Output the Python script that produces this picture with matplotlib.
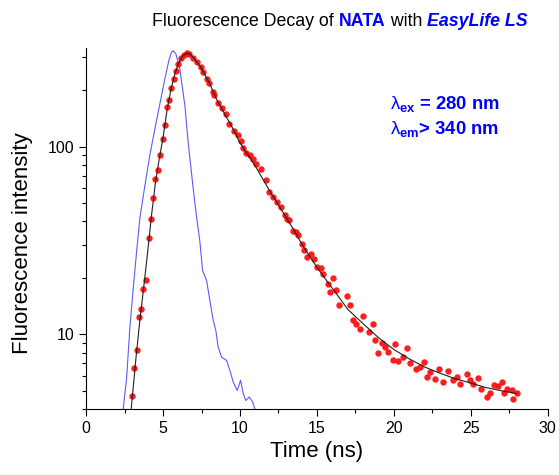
import matplotlib
matplotlib.use("Agg")
import matplotlib.pyplot as plt
from matplotlib.ticker import FixedLocator, NullFormatter, MultipleLocator
from matplotlib.offsetbox import TextArea, HPacker, AnchoredOffsetbox

plt.rcParams['font.family'] = ['Liberation Sans', 'DejaVu Sans']
plt.rcParams['mathtext.fontset'] = 'custom'
plt.rcParams['mathtext.rm'] = 'Liberation Sans'
plt.rcParams['mathtext.bf'] = 'Liberation Sans:bold'
plt.rcParams['mathtext.it'] = 'Liberation Sans:italic'

t_data = [2.99, 3.12, 3.28, 3.45, 3.60, 3.73, 3.90, 4.08, 4.19, 4.34, 4.49, 4.64,
          4.79, 4.97, 5.10, 5.23, 5.38, 5.51, 5.70, 5.83, 5.98, 6.16, 6.35, 6.53,
          6.70, 6.92, 7.18, 7.46, 7.61, 7.87, 7.98, 8.22, 8.32, 8.58, 8.80, 9.08,
          9.30, 9.60, 9.84, 10.06, 10.21, 10.38, 10.64, 10.82, 11.03, 11.34, 11.68,
          11.88, 12.12, 12.42, 12.64, 12.92, 13.07, 13.18, 13.42, 13.61, 13.78,
          14.00, 14.15, 14.37, 14.59, 14.82, 14.98, 15.26, 15.41, 15.73, 15.85,
          16.02, 16.24, 16.45, 16.93, 17.15, 17.36, 17.54, 17.80, 18.01, 18.40,
          18.62, 18.77, 18.99, 19.21, 19.42, 19.64, 19.92, 20.07, 20.29, 20.57,
          20.83, 21.05, 21.44, 21.70, 21.96, 22.13, 22.35, 22.67, 22.95, 23.21,
          23.54, 23.86, 24.08, 24.30, 24.73, 24.95, 25.16, 25.45, 25.66, 26.03,
          26.25, 26.53, 26.75, 27.01, 27.18, 27.33, 27.66, 27.76, 27.98]
y_data = [4.67, 6.61, 8.22, 12.4, 13.7, 17.5, 19.6, 32.7, 41.4, 53.4, 67.7, 75.5,
          90.0, 110, 131, 163, 178, 206, 231, 255, 277, 297, 310, 318,
          312, 297, 283, 266, 250, 231, 220, 197, 188, 172, 161, 150,
          133, 122, 116, 107, 98.4, 93.0, 90.0, 86.5, 81.3, 75.8, 66.3,
          57.4, 54.0, 50.7, 47.7, 43.5, 41.4, 40.8, 35.8, 35.1, 34.0,
          30.4, 28.2, 26.0, 26.7, 25.3, 22.9, 22.6, 21.1, 18.5, 16.8,
          20.0, 17.2, 14.3, 16.0, 14.4, 11.9, 11.4, 10.7, 12.6, 10.3,
          11.3, 9.29, 7.95, 8.99, 8.56, 8.05, 7.27, 8.92, 7.21, 7.57,
          8.49, 7.03, 6.56, 6.70, 7.12, 5.92, 6.29, 5.81, 6.56, 5.57,
          6.37, 5.69, 5.92, 5.46, 6.17, 5.69, 5.41, 5.87, 5.14, 4.64,
          4.87, 5.35, 5.29, 5.57, 4.87, 5.14, 5.02, 4.54, 4.87]

# fitted curve (black)
t_fit = [2.93, 3.0, 3.25, 3.5, 3.75, 4.0, 4.25, 4.5, 4.75, 5.0, 5.25, 5.5, 5.75,
         6.0, 6.25, 6.5, 6.75, 7.0, 7.5, 8.0, 8.5, 9.0, 9.5, 10.0, 10.5, 11.0,
         11.5, 12.0, 12.5, 13.0, 13.5, 14.0, 14.5, 15.0, 15.5, 16.0, 16.5, 17.0,
         18.0, 19.0, 20.0, 21.0, 22.0, 23.0, 24.0, 25.0, 26.0, 27.0, 28.0]
y_fit = [4.0, 4.6, 7.6, 12.0, 18.0, 27.5, 43, 64, 86, 112, 155, 200, 242,
         278, 303, 316, 313, 297, 262, 220, 178, 150, 127, 105, 91, 79,
         67, 57, 49, 42, 36, 30.5, 26.3, 22.8, 20.0, 17.6, 15.5, 13.6,
         11.4, 9.6, 8.3, 7.4, 6.7, 6.2, 5.8, 5.5, 5.2, 5.0, 4.83]

# instrument response (blue)
t_irf = [2.35, 2.41, 2.63, 2.84, 3.06, 3.28, 3.49, 3.82, 4.14, 4.47, 4.79, 5.12,
         5.38, 5.55, 5.66, 5.83, 6.09, 6.42, 6.63, 6.96, 7.18, 7.39, 7.57, 7.83,
         8.04, 8.26, 8.43, 8.58, 8.80, 9.13, 9.34, 9.56, 9.82, 10.04, 10.21,
         10.38, 10.60, 10.82, 10.97, 11.2]
y_irf = [3.6, 4.0, 5.8, 10.7, 17.5, 27.5, 41.4, 62.2, 90, 125, 169, 231,
         289, 320, 326, 314, 261, 166, 106, 59.9, 42.2, 31.5, 21.9, 19.4,
         15.2, 11.9, 10.5, 8.56, 7.57, 7.26, 6.43, 5.57, 5.02, 5.69, 4.83,
         4.44, 4.63, 4.36, 4.0, 3.8]

fig = plt.figure(figsize=(5.59, 4.75), dpi=100)
ax = fig.add_axes([0.154, 0.139, 0.826, 0.759])

ax.plot(t_irf, y_irf, color='#5a5aff', lw=0.8)
ax.plot(t_data, y_data, 'o', color='#ff1010', ms=4.6, mec='none', alpha=0.95)
ax.plot(t_fit, y_fit, color='#202020', lw=0.8)

ax.set_yscale('log')
ax.set_xlim(0, 30)
ax.set_ylim(4, 335)
ax.xaxis.set_major_locator(MultipleLocator(5))
ax.xaxis.set_minor_locator(MultipleLocator(2.5))
ax.yaxis.set_major_locator(FixedLocator([10, 100]))
ax.yaxis.set_minor_locator(FixedLocator([4, 5, 6, 7, 8, 9, 20, 30, 40, 50, 60, 70, 80, 90, 200, 300]))
ax.yaxis.set_minor_formatter(NullFormatter())
ax.set_yticklabels(['10', '100'])
ax.tick_params(which='major', direction='out', length=5, width=0.8, labelsize=11.5)
ax.tick_params(which='minor', direction='out', length=3, width=0.8)
for s in ['top', 'right']:
    ax.spines[s].set_visible(False)

ax.set_xlabel('Time (ns)', fontsize=16)
ax.set_ylabel('Fluorescence intensity', fontsize=16)
ax.yaxis.set_label_coords(-0.115, 0.46)

# title made of coloured pieces
tp = dict(size=12.8)
parts = [TextArea('Fluorescence Decay of ', textprops=dict(color='black', **tp)),
         TextArea('NATA', textprops=dict(color='#0000ff', weight='bold', **tp)),
         TextArea(' with ', textprops=dict(color='black', **tp)),
         TextArea('EasyLife LS', textprops=dict(color='#0000ff', weight='bold', style='italic', **tp))]
box = HPacker(children=parts, align='baseline', pad=0, sep=0)
title = AnchoredOffsetbox(loc='center', child=box, bbox_to_anchor=(340 / 559, 1 - 22 / 475),
                          bbox_transform=fig.transFigure, frameon=False, pad=0, borderpad=0)
fig.add_artist(title)

fig.text(390 / 559, 1 - 104 / 475, r'$\mathrm{\lambda}_{\mathbf{ex}}$ = 280 nm', color='#0000ff',
         fontsize=13.3, fontweight='bold', va='center')
fig.text(390 / 559, 1 - 129 / 475, r'$\mathrm{\lambda}_{\mathbf{em}}$> 340 nm', color='#0000ff',
         fontsize=13.3, fontweight='bold', va='center')

fig.savefig('out.png', dpi=100)
